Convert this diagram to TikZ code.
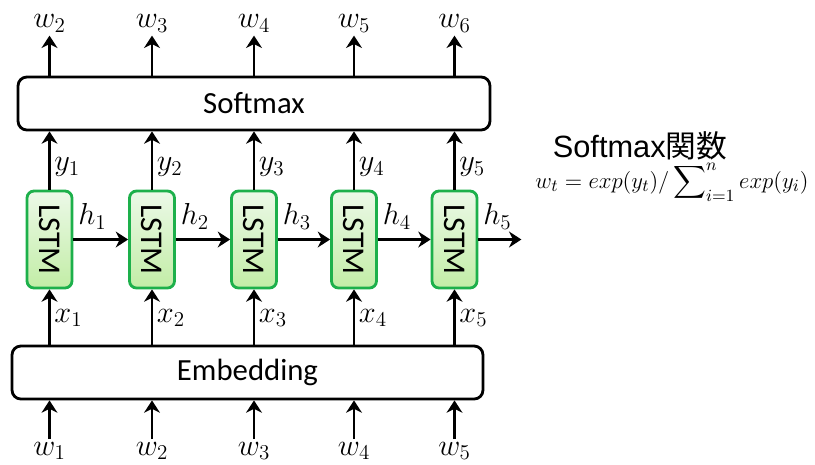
\documentclass[tikz,border=0pt]{standalone}
\usepackage{fontspec}
\usepackage{amsmath}
\newfontfamily\calibfont{Carlito}
\newfontfamily\arialfont{Liberation Sans}
\newfontfamily\jpfont{Noto Sans CJK JP}
\usetikzlibrary{arrows.meta}
\definecolor{celledge}{HTML}{1DB04B}
\definecolor{celltop}{HTML}{ECF9E8}
\definecolor{cellbot}{HTML}{C2EDA6}
\tikzset{
  layerbox/.style={draw, rounded corners=5pt, minimum width=9.44cm, minimum height=1.06cm,
    inner sep=0pt, font=\calibfont\fontsize{17.5}{20}\selectfont},
  cellbox/.style={draw=celledge, rounded corners=4pt, top color=celltop, bottom color=cellbot,
    minimum width=0.9cm, minimum height=1.94cm, inner sep=0pt, font=\calibfont\fontsize{18}{20}\selectfont},
  lbl/.style={inner sep=2pt}
}
\begin{document}
\begin{tikzpicture}[x=0.02cm, y=-0.02cm, line width=1.6pt,
    >={Stealth[length=7pt, width=9pt, inset=2.2pt]},
    every node/.style={font=\fontsize{17.5}{20}\selectfont}]
  \useasboundingbox (0,0) rectangle (815,464);

  % layers
  \node[layerbox] (softmax) at (254,103.5) {Softmax};
  \node[layerbox, minimum width=9.42cm] (embed) at (247.5,372.5) {Embedding};

  % LSTM cells
  \foreach \i/\x in {1/49.5, 2/152, 3/254, 4/354, 5/454.5}
    \node[cellbox] (cell\i) at (\x,239.5) {\rotatebox{-90}{LSTM}};

  % outputs and inputs
  \foreach \i [evaluate=\i as \j using int(\i+1)] in {1,...,5} {
    \draw[->] (cell\i |- softmax.north) -- ++(0,-40) node[above, lbl, inner sep=1pt] (wout\i) {$w_{\j}$};
    \draw[->] (cell\i.north) -- (cell\i |- softmax.south) node[pos=0.39, right, lbl] (y\i) {$y_{\i}$};
    \draw[->] (cell\i |- embed.north) -- (cell\i.south) node[pos=0.48, right, lbl] (x\i) {$x_{\i}$};
    \node[anchor=north, inner sep=1pt] (win\i) at (cell\i |- 0,439) {$w_{\i}$};
    \draw[->] (win\i.north) -- (win\i.north |- embed.south);
  }

  % hidden states
  \foreach \i [evaluate=\i as \j using int(\i+1)] in {1,...,4}
    \draw[->] (cell\i.east) -- (cell\j.west) node[pos=0, above right, lbl, yshift=3pt] (h\i) {$h_{\i}$};
  \draw[->] (cell5.east) -- ++(43,0) node[pos=0, above right, lbl, yshift=3pt] (h5) {$h_{5}$};

  % softmax formula
  \node[anchor=base, inner sep=0pt] (title) at (640,157) {\arialfont Softmax\jpfont 関数};
  \node[anchor=base east, inner sep=0pt, font=\fontsize{12.3}{14}\selectfont] (formula) at (810,188)
    {\scalebox{1.08}{$w_t = exp(y_t)/\displaystyle\sum\nolimits_{i=1}^{n} exp(y_i)$}};
\end{tikzpicture}
\end{document}
